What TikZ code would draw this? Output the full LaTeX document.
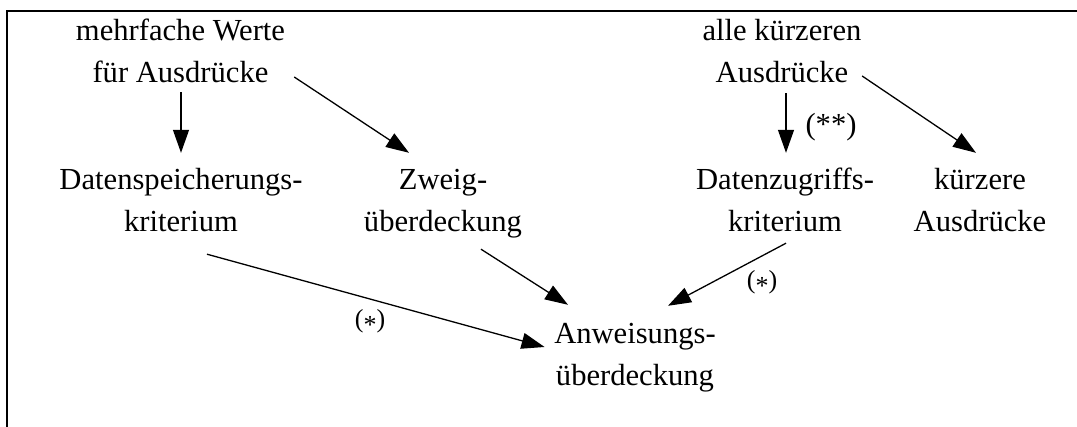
\documentclass[tikz,border=0pt]{standalone}
\usepackage{fontspec}
\setmainfont{Liberation Serif}
\usetikzlibrary{arrows.meta,calc}
\begin{document}
\begin{tikzpicture}[x=1pt,y=-1pt,
  lbl/.style={inner sep=0pt, align=center, font=\fontsize{30.6}{42}\selectfont},
  note/.style={inner sep=0pt, anchor=base, font=\fontsize{30.6}{42}\selectfont},
  snote/.style={inner sep=0pt, anchor=base, font=\fontsize{26}{32}\selectfont},
  conn/.style={line width=1.3pt, -{Triangle[length=23pt,width=16pt]}}]
\useasboundingbox (0,0) rectangle (1077,427);
% frame: top and left edges only
\draw[line width=2pt] (1077,11) -- (6.5,11) -- (6.5,427);

% criteria
\node[lbl] (mw) at (180.5,53.6) {\strut mehrfache Werte\\\strut für Ausdrücke};
\node[lbl] (ak) at (782,53.6)   {\strut alle kürzeren\\\strut Ausdrücke};
\node[lbl] (ds) at (181,202.6)  {\strut Datenspeicherungs-\\\strut kriterium};
\node[lbl] (zw) at (443,202.6)  {\strut Zweig-\\\strut überdeckung};
\node[lbl] (dz) at (785,202.6)  {\strut Datenzugriffs-\\\strut kriterium};
\node[lbl] (ka) at (980,202.6)  {\strut kürzere\\\strut Ausdrücke};
\node[lbl] (aw) at (635,356.6)  {\strut Anweisungs-\\\strut überdeckung};

% annotations
\node[note]  (n2) at (831,134.5) {(**)};
\node[snote] (n1) at (370,328)   {(\raisebox{-0.22em}{*})};
\node[snote] (n3) at (762,288.6) {(\raisebox{-0.22em}{*})};

% subsumption arrows
\draw[conn] ($(mw.south)+(0.5,-3.6)$) -- ($(ds.north)+(0,-7.6)$);
\draw[conn] ($(mw.east)+(9,23.4)$)    -- ($(zw.north)+(-34,-7.6)$);
\draw[conn] ($(ak.south)+(4,-2.6)$)   -- ($(dz.north)+(1,-7.6)$);
\draw[conn] ($(ak.east)+(0.5,22.4)$)  -- ($(ka.north)+(-4,-7.6)$);
\draw[conn] ($(ds.south)+(26,9.4)$)   -- ($(aw.west)+(-9.5,-9.6)$);
\draw[conn] ($(zw.south)+(38,4.4)$)   -- ($(aw.north)+(-67,-9.6)$);
\draw[conn] ($(dz.south)+(1,-1.6)$)   -- ($(aw.north)+(33,-8.6)$);
\end{tikzpicture}
\end{document}
